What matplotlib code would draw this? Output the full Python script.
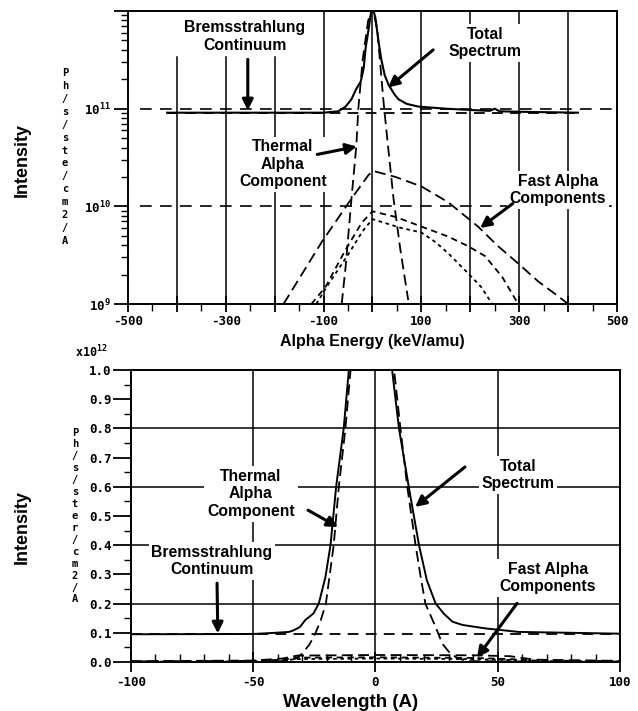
import numpy as np
import matplotlib
matplotlib.use('Agg')
import matplotlib.pyplot as plt
from matplotlib.ticker import FixedLocator, MultipleLocator, LogLocator, NullFormatter

# フォント設定
plt.rcParams['font.family'] = ['Liberation Sans', 'DejaVu Sans']
plt.rcParams['mathtext.fontset'] = 'custom'
plt.rcParams['mathtext.rm'] = 'DejaVu Sans Mono:bold'
plt.rcParams['mathtext.it'] = 'DejaVu Sans Mono:bold'

# ---- 上段: Alpha Energy (keV/amu) ----
energy_total = [-420, -100, -70, -55, -43, -33, -24, -18, -14, -8, -4, 0, 6, 12, 18, 25, 33, 45, 53, 70, 94, 150, 200, 240, 250, 260, 300, 420]
total_top = [9.1e10, 9.1e10, 9.4e10, 1.05e11, 1.25e11, 1.6e11, 1.9e11, 2.6e11, 4.2e11, 6.5e11, 9.0e11, 1.1e12,
             8.5e11, 5.0e11, 3.2e11, 2.2e11, 1.75e11, 1.4e11, 1.25e11, 1.12e11, 1.05e11, 1.0e11, 9.7e10,
             9.5e10, 1.0e11, 9.4e10, 9.3e10, 9.1e10]

energy_thermal = [-63, -55, -43, -33, -29, -20, -9, 0, 10, 22, 30, 43, 57, 73]
thermal_top = [1.0e9, 2.4e9, 1.2e10, 4.2e10, 1.0e11, 3.2e11, 7.9e11, 1.1e12, 6.3e11, 1.26e11, 5.0e10, 1.2e10, 3.6e9, 1.1e9]

energy_fast1 = [-182, -104, -43, -8, 2, 47, 100, 155, 216, 257, 298, 339, 380, 400]
fast1_top = [1.0e9, 4.3e9, 1.2e10, 2.1e10, 2.3e10, 2.0e10, 1.6e10, 1.1e10, 6.2e9, 3.9e9, 2.6e9, 1.7e9, 1.2e9, 1.0e9]

energy_fast2 = [-125, -96, -55, -22, 0, 47, 108, 155, 196, 230, 265, 298]
fast2_top = [1.0e9, 1.5e9, 3.6e9, 6.8e9, 8.9e9, 7.8e9, 6.0e9, 4.9e9, 3.9e9, 3.1e9, 1.9e9, 1.0e9]

energy_fast3 = [-115, -90, -50, -20, 0, 59, 100, 129, 155, 190, 222, 245]
fast3_top = [1.0e9, 1.6e9, 3.2e9, 5.6e9, 7.4e9, 6.0e9, 5.4e9, 4.3e9, 3.3e9, 2.2e9, 1.5e9, 1.0e9]

energy_brems = [-420, 420]
brems_top = [9.1e10, 9.1e10]

energy_ticks = [-500, -400, -300, -200, -100, 0, 100, 200, 300, 400, 500]
energy_ticklabels = ['-500', '', '-300', '', '-100', '', '100', '', '300', '', '500']
energy_grid = [-400, -300, -200, -100, 0, 100, 200, 300, 400]
energy_grid_top = [0.843, 0.843, 0.843, 1, 1, 1, 1, 1, 1]
log_ticks = [1e9, 1e10, 1e11, 1e12]
log_ticklabels = ['$10^{9}$', '$10^{10}$', '$10^{11}$', '']

# ---- 下段: Wavelength (A), 単位 x10^12 ----
wl_total = [-100, -50, -41, -35.5, -33.6, -30.9, -28.7, -25.4, -23.2, -20.5, -18.4, -16.1, -13, -10.9, -8, 0, 5,
            6.8, 9.6, 13.6, 17.8, 21, 24.6, 28, 31.5, 35.5, 45, 58.7, 80, 100]
total_bot = [0.095, 0.096, 0.1, 0.103, 0.108, 0.12, 0.144, 0.166, 0.2, 0.29, 0.4, 0.6, 0.8, 1.0, 1.15, 1.3, 1.15,
             1.0, 0.8, 0.6, 0.4, 0.28, 0.2, 0.165, 0.138, 0.127, 0.115, 0.103, 0.1, 0.097]

wl_thermal = [-100, -40, -35, -32.5, -30, -27, -24.6, -22.5, -20.3, -17.1, -15, -12.3, -10.2, -6, 0, 5, 7.6, 10.2,
              13.0, 16.4, 18.5, 20.4, 22.5, 24.6, 27.3, 30, 32.8, 37, 100]
thermal_bot = [0.0, 0.002, 0.006, 0.012, 0.029, 0.06, 0.098, 0.14, 0.2, 0.4, 0.6, 0.8, 1.0, 1.2, 1.3, 1.2, 1.0, 0.8,
               0.6, 0.4, 0.29, 0.2, 0.16, 0.12, 0.063, 0.035, 0.017, 0.003, 0.0]

wl_fast = [-100, -50, -38, -32, 0, 40, 55, 65, 100]
fast1_bot = [0.003, 0.005, 0.012, 0.022, 0.024, 0.023, 0.02, 0.008, 0.004]
fast2_bot = [0.002, 0.004, 0.008, 0.015, 0.016, 0.014, 0.01, 0.005, 0.003]
fast3_bot = [0.001, 0.002, 0.006, 0.010, 0.012, 0.010, 0.007, 0.003, 0.002]

wl_brems = [-100, 100]
brems_bot = [0.096, 0.096]

wl_ticks = [-100, -50, 0, 50, 100]
int_ticks = [0.0, 0.1, 0.2, 0.3, 0.4, 0.5, 0.6, 0.7, 0.8, 0.9, 1.0]
int_grid = [0.2, 0.4, 0.6, 0.8]

fig = plt.figure(figsize=(6.38, 7.11), dpi=100)
ax1 = fig.add_axes([0.2006, 0.5724, 0.7665, 0.4121])
ax2 = fig.add_axes([0.2053, 0.0689, 0.7665, 0.4107])

lw = 1.3
lab_kw = dict(fontsize=11.3, fontweight='bold', ha='center', va='center', linespacing=1.2,
              bbox=dict(facecolor='white', edgecolor='none', pad=2), zorder=2.5)
arr_kw = dict(arrowstyle='-|>', lw=2.2, color='black', mutation_scale=16, shrinkA=0, shrinkB=0)
tick_font = dict(family='DejaVu Sans Mono', weight='bold', size=9)

# ---------- 上段 ----------
ax1.set_yscale('log')
for xg, top in zip(energy_grid, energy_grid_top):
    ax1.axvline(xg, ymax=top, color='black', lw=1.1, zorder=1)
for yg in [1e10, 1e11]:
    ax1.axhline(yg, xmin=0.025, color='black', lw=1.2, dashes=(7, 5), zorder=1)

ax1.plot(energy_brems, brems_top, color='black', lw=lw, dashes=(6, 4), zorder=3)
ax1.plot(energy_thermal, thermal_top, color='black', lw=lw, dashes=(6, 3), zorder=3)
ax1.plot(energy_fast1, fast1_top, color='black', lw=lw, dashes=(6, 3), zorder=3)
ax1.plot(energy_fast2, fast2_top, color='black', lw=lw, dashes=(3.5, 2.5), zorder=3)
ax1.plot(energy_fast3, fast3_top, color='black', lw=lw, dashes=(2, 2), zorder=3)
ax1.plot(energy_total, total_top, color='black', lw=1.5, zorder=3)

ax1.set_xlim(-500, 500)
ax1.set_ylim(1e9, 1e12)
ax1.yaxis.set_major_locator(FixedLocator(log_ticks))
ax1.set_yticklabels(log_ticklabels, **tick_font)
ax1.yaxis.set_minor_locator(LogLocator(base=10, subs=np.arange(2, 10)))
ax1.yaxis.set_minor_formatter(NullFormatter())
ax1.set_xticks(energy_ticks)
ax1.set_xticklabels(energy_ticklabels, **tick_font)
ax1.xaxis.set_minor_locator(MultipleLocator(50))
ax1.tick_params(axis='y', which='major', direction='out', length=10, width=1.3, pad=2)
ax1.tick_params(axis='y', which='minor', direction='out', length=5, width=1.0)
ax1.tick_params(axis='x', which='major', direction='inout', length=12, width=1.3, pad=2)
ax1.tick_params(axis='x', which='minor', direction='out', length=5, width=1.0)
for s in ax1.spines.values():
    s.set_linewidth(1.4)

ax1.text(-261, 5.5e11, 'Bremsstrahlung\nContinuum', **lab_kw)
ax1.annotate('', xy=(-255, 9.6e10), xytext=(-255, 3.2e11), arrowprops=arr_kw)
ax1.text(-183, 2.7e10, 'Thermal\nAlpha\nComponent', **lab_kw)
ax1.annotate('', xy=(-32, 4.1e10), xytext=(-113, 3.4e10), arrowprops=arr_kw)
ax1.text(230, 4.7e11, 'Total\nSpectrum', **lab_kw)
ax1.annotate('', xy=(32, 1.65e11), xytext=(124, 4.0e11), arrowprops=arr_kw)
ax1.text(379, 1.48e10, 'Fast Alpha\nComponents', **lab_kw)
ax1.annotate('', xy=(220, 6.0e9), xytext=(287, 1.07e10), arrowprops=arr_kw)

ax1.set_xlabel('Alpha Energy (keV/amu)', fontsize=11.5, fontweight='bold', labelpad=4)

# ---------- 下段 ----------
for yg in int_grid:
    ax2.axhline(yg, color='black', lw=1.1, zorder=1)
for xg in [-50, 0, 50]:
    ax2.axvline(xg, color='black', lw=1.1, zorder=1)

ax2.plot(wl_brems, brems_bot, color='black', lw=lw, dashes=(6, 4), zorder=3)
ax2.plot(wl_fast, fast1_bot, color='black', lw=lw, dashes=(6, 3), zorder=3)
ax2.plot(wl_fast, fast2_bot, color='black', lw=lw, dashes=(3.5, 2.5), zorder=3)
ax2.plot(wl_fast, fast3_bot, color='black', lw=lw, dashes=(2, 2), zorder=3)
ax2.plot(wl_thermal, thermal_bot, color='black', lw=lw, dashes=(6, 3), zorder=3)
ax2.plot(wl_total, total_bot, color='black', lw=1.4, zorder=3)

ax2.set_xlim(-100, 100)
ax2.set_ylim(0, 1.0)
ax2.set_xticks(wl_ticks)
ax2.set_xticklabels([str(v) for v in wl_ticks], **tick_font)
ax2.xaxis.set_minor_locator(MultipleLocator(10))
ax2.set_yticks(int_ticks)
ax2.set_yticklabels(['%.1f' % v for v in int_ticks], **tick_font)
ax2.yaxis.set_minor_locator(MultipleLocator(0.05))
ax2.tick_params(axis='y', which='major', direction='out', length=13, width=1.3, pad=1)
ax2.tick_params(axis='y', which='minor', direction='out', length=5, width=1.0)
ax2.tick_params(axis='x', which='major', direction='inout', length=14, width=1.3, pad=3)
ax2.tick_params(axis='x', which='minor', direction='in', length=6, width=1.0)
for s in ax2.spines.values():
    s.set_linewidth(1.4)

ax2.text(-50.9, 0.576, 'Thermal\nAlpha\nComponent', **lab_kw)
ax2.annotate('', xy=(-15.3, 0.462), xytext=(-27.6, 0.52), arrowprops=arr_kw)
ax2.text(58.3, 0.641, 'Total\nSpectrum', **lab_kw)
ax2.annotate('', xy=(16.2, 0.531), xytext=(36.6, 0.668), arrowprops=arr_kw)
ax2.text(-66.9, 0.345, 'Bremsstrahlung\nContinuum', **lab_kw)
ax2.annotate('', xy=(-64.5, 0.098), xytext=(-64.8, 0.27), arrowprops=arr_kw)
ax2.text(70.6, 0.287, 'Fast Alpha\nComponents', **lab_kw)
ax2.annotate('', xy=(41.5, 0.015), xytext=(57.9, 0.201), arrowprops=arr_kw)

ax2.set_xlabel('Wavelength (A)', fontsize=13.5, fontweight='bold', labelpad=2)
ax2.xaxis.set_label_coords(0.45, -0.11)

# 縦軸ラベル
W, H = 638, 711
for yc in [160, 527]:
    fig.text(22 / W, 1 - yc / H, 'Intensity', rotation=90, fontsize=13, fontweight='bold',
             ha='center', va='center')
fig.text(65 / W, 1 - 157 / H, '\n'.join('Ph/s/ste/cm2/A'), family='DejaVu Sans Mono', weight='bold',
         fontsize=7.5, ha='center', va='center', linespacing=1.36)
fig.text(75 / W, 1 - 516 / H, '\n'.join('Ph/s/ster/cm2/A'), family='DejaVu Sans Mono', weight='bold',
         fontsize=7.5, ha='center', va='center', linespacing=1.24)
fig.text(75 / W, 1 - 352 / H, r'$\mathrm{x10^{12}}$', fontsize=8.5, ha='left', va='center')

fig.savefig('out.png', dpi=100)
